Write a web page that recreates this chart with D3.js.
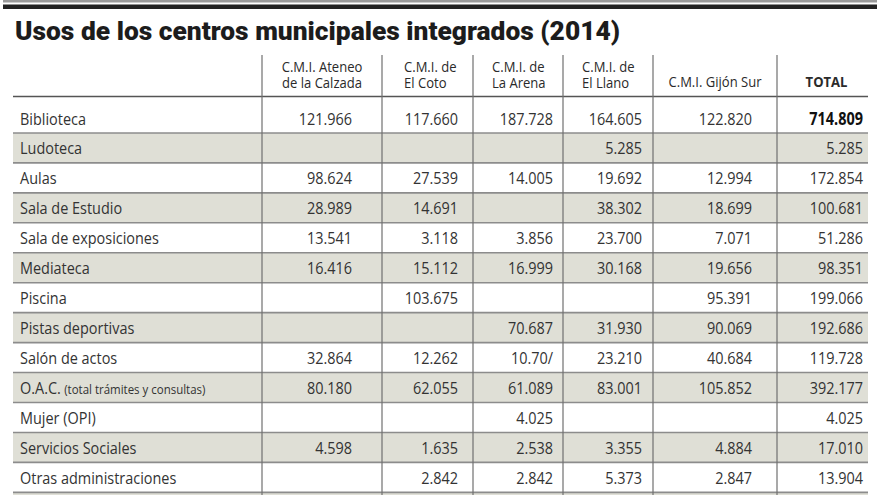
<!DOCTYPE html>
<html><head><meta charset="utf-8">
<script src="https://cdn.jsdelivr.net/npm/d3@7/dist/d3.min.js"></script>
<style>
html,body{margin:0;padding:0;background:#fff;}
svg{display:block;}
</style></head>
<body>
<svg id="c" width="880" height="495"></svg>
<script>
const title = "Usos de los centros municipales integrados (2014)";
const columns = [
  ["C.M.I. Ateneo", "de la Calzada"],
  ["C.M.I. de", "El Coto"],
  ["C.M.I. de", "La Arena"],
  ["C.M.I. de", "El Llano"],
  ["C.M.I. Gijón Sur"],
  ["TOTAL"]
];
const categories = [
  "Biblioteca", "Ludoteca", "Aulas", "Sala de Estudio", "Sala de exposiciones",
  "Mediateca", "Piscina", "Pistas deportivas", "Salón de actos",
  "O.A.C.|(total trámites y consultas)", "Mujer (OPI)", "Servicios Sociales",
  "Otras administraciones", ""
];
const ateneo  = ["121.966","","98.624","28.989","13.541","16.416","","","32.864","80.180","","4.598","",""];
const coto    = ["117.660","","27.539","14.691","3.118","15.112","103.675","","12.262","62.055","","1.635","2.842",""];
const arena   = ["187.728","","14.005","","3.856","16.999","","70.687","10.70/","61.089","4.025","2.538","2.842",""];
const llano   = ["164.605","5.285","19.692","38.302","23.700","30.168","","31.930","23.210","83.001","","3.355","5.373",""];
const gijonSur= ["122.820","","12.994","18.699","7.071","19.656","95.391","90.069","40.684","105.852","","4.884","2.847",""];
const total   = ["714.809","5.285","172.854","100.681","51.286","98.351","199.066","192.686","119.728","392.177","4.025","17.010","13.904",""];
const series = [ateneo, coto, arena, llano, gijonSur, total];

// layout
const W = 880, H = 495;
const left = 13, right = 868;
const colEdges = [262, 382, 473, 563, 653, 777, right];
const numRight = [352, 458, 553, 642, 752, 863];
const headAnchor = [
  {x: 322, a: "middle"}, {x: 404, a: "start"}, {x: 492, a: "start"},
  {x: 582, a: "start"}, {x: 715, a: "middle"}, {x: 826.5, a: "middle"}
];
const rowH = 29.95;
const y = d3.scaleBand().domain(d3.range(categories.length))
  .range([103, 103 + rowH * categories.length]).padding(0);

const svg = d3.select("#c");
const txtFont = "'Open Sans', 'Noto Sans', sans-serif";
const sx = 0.85;   // horizontal condensation of body text

// top rules
svg.append("rect").attr("x", 3).attr("y", 0).attr("width", 874).attr("height", 2.5).attr("fill", "#9a9a9a");
svg.append("rect").attr("x", 3).attr("y", 4.5).attr("width", 874).attr("height", 4.5).attr("fill", "#222");

// title
svg.append("text").attr("x", 15).attr("y", 39.5)
  .attr("font-family", "Roboto, 'Open Sans', sans-serif").attr("font-weight", 900)
  .attr("font-size", 25.5).attr("fill", "#1c1c1c")
  .attr("textLength", 605).attr("lengthAdjust", "spacingAndGlyphs")
  .text(title);

// shaded rows
svg.append("g").selectAll("rect").data(categories.map((c, i) => i).filter(i => i % 2 === 1))
  .join("rect")
  .attr("x", left).attr("width", right - left)
  .attr("y", i => y(i)).attr("height", y.bandwidth())
  .attr("fill", "#dfdfd6");

// row lines
svg.append("g").selectAll("line").data(d3.range(categories.length))
  .join("line")
  .attr("x1", left).attr("x2", right)
  .attr("y1", i => y(i) + y.bandwidth()).attr("y2", i => y(i) + y.bandwidth())
  .attr("stroke", "#8c8c8c").attr("stroke-width", 1.6);

// header line
svg.append("line").attr("x1", left).attr("x2", right).attr("y1", 96.5).attr("y2", 96.5)
  .attr("stroke", "#555").attr("stroke-width", 1.6);

// vertical lines
svg.append("g").selectAll("line").data(colEdges.slice(0, 6))
  .join("line")
  .attr("x1", d => d).attr("x2", d => d).attr("y1", 55).attr("y2", H)
  .attr("stroke", "#707070").attr("stroke-width", 1.2);

// headers
const hg = svg.append("g").attr("font-family", txtFont).attr("font-size", 15).attr("fill", "#2a2a2a");
columns.forEach((lines, j) => {
  const base = lines.length === 2 ? 72 : 87;
  lines.forEach((l, k) => {
    hg.append("text").attr("text-anchor", headAnchor[j].a)
      .attr("font-weight", j === 5 ? 700 : 400)
      .attr("transform", `translate(${headAnchor[j].x},${base + k * 15.5}) scale(0.87,1)`)
      .text(l);
  });
});

// row labels
const lg = svg.append("g").attr("font-family", txtFont).attr("font-size", 17).attr("fill", "#333");
categories.forEach((c, i) => {
  if (!c) return;
  const parts = c.split("|");
  const t = lg.append("text").attr("transform", `translate(20,${y(i) + 21.5}) scale(${sx},1)`);
  t.append("tspan").text(parts[0]);
  if (parts[1]) t.append("tspan").attr("font-size", 13.5).attr("dx", 4).text(parts[1]);
});

// values
const vg = svg.append("g").attr("font-family", txtFont).attr("font-size", 17)
  .attr("fill", "#333").attr("text-anchor", "end");
series.forEach((vals, j) => {
  vg.append("g").selectAll("text").data(vals.map((v, i) => ({v, i})).filter(d => d.v))
    .join("text")
    .attr("transform", d => `translate(${numRight[j]},${y(d.i) + 21.5}) scale(${sx},1)`)
    .attr("font-weight", d => (j === 5 && d.i === 0) ? 700 : 400)
    .attr("fill", d => (j === 5 && d.i === 0) ? "#111" : "#333")
    .text(d => d.v);
});
</script>
</body></html>
